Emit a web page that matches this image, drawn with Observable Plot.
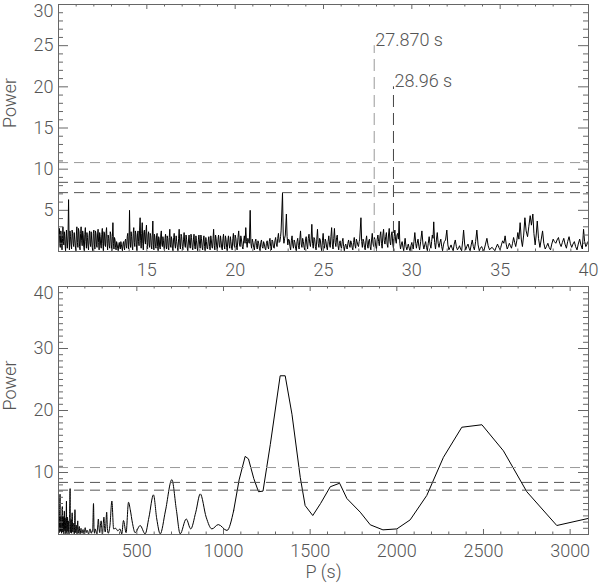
<!DOCTYPE html>
<html>
<head>
<meta charset="utf-8">
<script src="https://cdn.jsdelivr.net/npm/d3@7"></script>
<script src="https://cdn.jsdelivr.net/npm/@observablehq/plot@0.6"></script>
<style>
  html, body { margin: 0; padding: 0; background: #fff; }
  #chart svg { display: block; }
</style>
</head>
<body>
<div id="chart"></div>
<script>
// ---- data ----
const topXTicks = [15, 20, 25, 30, 35, 40];
const topYTicks = [5, 10, 15, 20, 25, 30];
const bottomXTicks = [500, 1000, 1500, 2000, 2500, 3000];
const bottomYTicks = [10, 20, 30, 40];
const sigLevels = [10.8, 8.4, 7.15];
const sigColors = ["#999", "#555", "#555"];
const peakPeriods = [27.870, 28.96];
const peakHeights = [25, 20];
const peakLabels = ["27.870 s", "28.96 s"];
const peakColors = ["#999", "#444"];

// top panel: period (s), power
const topSpectrum = [
[10.00,0.3],[10.03,1.9],[10.05,2.8],[10.08,0.9],[10.10,0.5],[10.13,2.5],[10.15,2.2],[10.18,0.7],[10.20,0.2],[10.23,1.6],[10.25,3.0],[10.28,1.2],[10.30,0.8],[10.33,2.4],[10.35,1.9],[10.38,0.6],[10.40,0.1],[10.43,1.8],[10.45,2.6],[10.48,1.0],
[10.50,0.4],[10.54,2.0],[10.57,6.3],[10.60,1.1],[10.62,0.2],[10.65,2.5],[10.68,1.8],[10.71,0.8],[10.74,0.3],[10.77,2.6],[10.80,2.2],[10.83,1.0],[10.86,0.6],[10.89,2.3],[10.92,1.5],[10.95,0.7],[10.98,0.1],[11.01,2.0],[11.04,3.0],[11.07,1.1],
[11.10,0.5],[11.13,2.8],[11.16,2.4],[11.19,0.6],[11.22,0.2],[11.25,2.2],[11.28,3.0],[11.31,1.3],[11.34,0.7],[11.37,2.5],[11.40,2.0],[11.43,0.5],[11.46,0.1],[11.49,2.1],[11.52,2.9],[11.55,1.2],[11.58,0.4],[11.61,2.3],[11.64,1.7],[11.67,0.6],
[11.70,0.2],[11.73,1.9],[11.76,2.5],[11.79,1.0],[11.82,0.6],[11.85,2.4],[11.88,1.4],[11.91,0.5],[11.94,0.1],[11.97,2.2],[12.00,2.6],[12.03,0.9],[12.06,0.3],[12.09,2.5],[12.12,2.2],[12.15,0.8],[12.18,0.5],[12.21,2.0],[12.24,2.7],[12.27,1.1],
[12.30,0.2],[12.33,2.3],[12.36,1.8],[12.39,0.7],[12.42,0.4],[12.45,2.1],[12.48,2.8],[12.51,1.0],[12.54,0.1],[12.57,2.4],[12.60,2.3],[12.63,0.8],[12.66,0.6],[12.69,2.2],[12.72,2.9],[12.75,1.0],[12.78,0.2],[12.81,2.0],[12.84,1.6],[12.87,0.7],
[12.90,0.4],[12.93,2.4],[12.96,2.1],[12.99,0.8],[13.02,0.1],[13.05,1.8],[13.08,3.5],[13.11,1.0],[13.14,0.3],[13.17,1.7],[13.20,1.4],[13.23,0.5],[13.26,0.2],[13.29,1.2],[13.32,0.9],[13.35,0.4],[13.38,0.1],[13.41,0.8],[13.44,1.1],[13.47,0.5],
[13.50,0.3],[13.53,1.2],[13.56,0.8],[13.59,0.4],[13.62,0.1],[13.65,0.9],[13.68,1.2],[13.71,0.6],[13.74,0.2],[13.77,1.3],[13.80,1.5],[13.83,0.7],[13.86,0.4],[13.89,1.8],[13.92,2.2],[13.95,0.9],[13.97,0.3],[14.00,2.0],[14.02,5.0],[14.05,1.2],
[14.08,0.5],[14.11,2.4],[14.14,1.8],[14.17,0.6],[14.20,0.2],[14.23,2.2],[14.26,2.9],[14.29,1.1],[14.32,0.6],[14.35,2.5],[14.38,2.1],[14.41,0.8],[14.44,0.1],[14.47,2.0],[14.50,2.5],[14.53,1.2],[14.56,0.7],[14.59,2.6],[14.62,4.1],[14.65,1.3],
[14.68,0.4],[14.71,2.2],[14.74,3.5],[14.77,1.0],[14.80,0.2],[14.83,2.3],[14.86,2.6],[14.89,1.4],[14.92,0.9],[14.95,2.4],[14.98,3.2],[15.01,1.1],[15.04,0.3],[15.07,2.0],[15.10,2.4],[15.13,0.9],[15.16,0.5],[15.19,2.2],[15.22,1.9],[15.25,0.7],
[15.28,0.3],[15.31,2.0],[15.34,3.7],[15.37,0.8],[15.40,0.2],[15.43,2.1],[15.46,1.7],[15.49,0.6],[15.52,0.4],[15.55,1.9],[15.58,2.2],[15.61,0.6],[15.64,0.1],[15.67,1.8],[15.70,1.5],[15.73,0.5],[15.76,0.3],[15.79,2.0],[15.82,2.5],[15.85,0.9],
[15.88,0.6],[15.91,1.8],[15.94,1.3],[15.97,0.4],[16.00,0.1],[16.03,1.6],[16.06,2.1],[16.09,0.7],[16.12,0.3],[16.15,1.9],[16.18,1.6],[16.21,0.5],[16.24,0.2],[16.27,1.7],[16.30,2.7],[16.33,0.8],[16.36,0.5],[16.39,1.8],[16.42,1.4],[16.45,0.4],
[16.48,0.1],[16.52,1.7],[16.55,2.2],[16.59,0.8],[16.62,0.4],[16.66,1.9],[16.69,1.2],[16.73,0.5],[16.76,0.1],[16.80,1.6],[16.83,2.7],[16.87,0.7],[16.90,0.3],[16.94,2.1],[16.97,1.8],[17.01,0.6],[17.04,0.2],[17.08,1.5],[17.11,2.3],[17.15,0.8],
[17.18,0.5],[17.22,2.0],[17.25,1.5],[17.29,0.4],[17.32,0.1],[17.36,1.4],[17.39,2.0],[17.43,0.7],[17.46,0.4],[17.50,2.1],[17.53,1.7],[17.57,0.5],[17.60,0.2],[17.64,1.5],[17.67,2.1],[17.71,0.6],[17.74,0.3],[17.78,1.9],[17.81,1.3],[17.85,0.4],
[17.88,0.1],[17.92,1.5],[17.95,2.0],[17.99,0.8],[18.02,0.4],[18.06,2.0],[18.09,1.6],[18.13,0.5],[18.16,0.2],[18.20,1.4],[18.23,1.9],[18.27,0.6],[18.30,0.1],[18.34,1.7],[18.37,1.2],[18.41,0.4],[18.44,0.3],[18.48,1.4],[18.51,1.8],[18.55,0.6],
[18.58,0.2],[18.62,1.9],[18.65,1.4],[18.69,0.5],[18.72,0.4],[18.75,1.6],[18.78,2.7],[18.82,0.7],[18.85,0.2],[18.89,2.0],[18.92,1.6],[18.96,0.5],[18.99,0.1],[19.03,1.5],[19.06,2.0],[19.10,0.8],[19.13,0.5],[19.17,1.9],[19.20,1.3],[19.24,0.4],
[19.27,0.2],[19.31,1.6],[19.34,2.1],[19.38,0.7],[19.41,0.3],[19.45,1.9],[19.48,1.5],[19.52,0.5],[19.55,0.1],[19.59,1.4],[19.62,1.9],[19.66,0.8],[19.69,0.4],[19.73,1.8],[19.76,1.2],[19.80,0.4],[19.83,0.2],[19.87,1.6],[19.90,2.2],[19.94,0.8],
[19.97,0.5],[20.00,2.0],[20.04,1.6],[20.08,0.5],[20.11,0.2],[20.16,1.7],[20.20,2.5],[20.24,0.9],[20.28,0.6],[20.32,1.9],[20.36,1.4],[20.40,0.6],[20.44,0.3],[20.48,1.3],[20.52,1.9],[20.56,1.0],[20.60,2.9],[20.64,1.2],[20.68,0.5],[20.72,1.6],
[20.76,1.2],[20.80,1.0],[20.85,5.0],[20.89,1.0],[20.93,0.4],[20.97,1.5],[21.01,1.1],[21.05,0.5],[21.09,0.2],[21.13,1.2],[21.17,1.5],[21.21,0.7],[21.25,0.3],[21.29,1.3],[21.33,1.0],[21.37,0.4],[21.41,0.1],[21.45,1.1],[21.49,1.4],[21.53,0.6],
[21.57,0.4],[21.61,1.2],[21.65,0.9],[21.69,0.4],[21.73,0.2],[21.77,1.0],[21.81,1.3],[21.85,0.6],[21.89,0.3],[21.93,1.2],[21.97,1.6],[22.01,0.6],[22.05,0.2],[22.09,1.4],[22.13,1.2],[22.17,0.5],[22.21,0.4],[22.25,1.3],[22.29,1.7],[22.33,0.9],
[22.37,0.6],[22.41,1.6],[22.45,2.2],[22.49,1.1],[22.53,1.2],[22.57,1.8],[22.60,2.5],[22.68,7.1],[22.72,2.0],[22.76,1.0],[22.80,1.6],[22.84,2.0],[22.90,4.55],[22.94,1.8],[22.98,0.8],[23.02,1.5],[23.06,1.4],[23.10,0.6],[23.14,0.2],[23.18,1.3],
[23.22,1.9],[23.26,0.8],[23.30,0.4],[23.34,1.4],[23.38,1.1],[23.42,0.4],[23.46,0.1],[23.50,1.2],[23.54,1.6],[23.58,0.7],[23.62,0.3],[23.66,1.5],[23.70,2.5],[23.74,0.9],[23.78,0.5],[23.82,1.6],[23.86,1.2],[23.90,0.5],[23.94,0.2],[23.98,1.4],
[24.02,1.8],[24.06,0.8],[24.10,0.3],[24.14,1.6],[24.18,2.1],[24.22,1.0],[24.26,0.6],[24.30,1.5],[24.34,3.3],[24.38,1.0],[24.42,0.4],[24.46,1.7],[24.50,1.5],[24.54,0.6],[24.58,0.2],[24.62,1.5],[24.66,2.7],[24.70,1.0],[24.74,0.5],[24.78,1.6],
[24.82,1.4],[24.86,0.5],[24.90,0.1],[24.94,1.3],[24.98,2.2],[25.02,0.9],[25.06,0.4],[25.10,1.5],[25.14,1.2],[25.18,0.5],[25.22,0.2],[25.26,1.2],[25.30,1.9],[25.34,0.9],[25.38,0.5],[25.42,1.8],[25.46,2.9],[25.50,0.9],[25.54,0.3],[25.58,1.6],
[25.62,2.8],[25.66,1.1],[25.70,0.6],[25.74,1.7],[25.78,2.0],[25.82,0.7],[25.86,0.2],[25.90,1.0],[25.94,1.3],[25.98,0.6],[26.02,0.4],[26.06,1.2],[26.10,1.6],[26.14,0.6],[26.18,0.1],[26.22,0.7],[26.26,0.9],[26.30,0.5],[26.34,0.3],[26.38,1.0],
[26.42,1.4],[26.46,0.8],[26.50,0.5],[26.54,1.3],[26.58,1.1],[26.62,0.5],[26.66,0.2],[26.70,1.1],[26.74,1.7],[26.78,0.8],[26.82,0.4],[26.86,1.5],[26.90,1.2],[26.94,0.8],[26.98,0.6],[27.02,1.2],[27.05,1.5],[27.12,4.1],[27.16,1.2],[27.20,0.5],
[27.24,1.5],[27.28,1.2],[27.32,0.5],[27.36,0.2],[27.40,1.3],[27.44,1.9],[27.48,0.8],[27.52,0.4],[27.56,1.3],[27.60,1.5],[27.64,0.6],[27.68,0.2],[27.72,1.4],[27.76,2.2],[27.80,1.0],[27.84,0.6],[27.88,1.7],[27.92,1.4],[27.96,0.6],[28.00,0.3],
[28.04,1.5],[28.08,2.0],[28.12,1.2],[28.16,0.7],[28.20,1.9],[28.24,2.4],[28.28,1.0],[28.32,0.4],[28.36,2.0],[28.40,2.7],[28.44,1.3],[28.48,0.9],[28.52,1.8],[28.56,2.3],[28.60,0.9],[28.64,0.5],[28.68,2.0],[28.72,2.8],[28.76,1.2],[28.80,0.8],
[28.84,2.0],[28.88,2.4],[28.92,0.9],[28.96,0.4],[29.00,1.8],[29.04,2.6],[29.08,1.4],[29.12,1.0],[29.16,2.0],[29.20,2.2],[29.24,1.5],[29.28,3.7],[29.32,1.0],[29.36,0.3],[29.40,0.8],[29.45,1.2],[29.50,0.5],[29.54,0.1],[29.58,0.9],[29.62,1.6],
[29.67,0.6],[29.72,0.2],[29.76,0.6],[29.80,0.9],[29.85,0.4],[29.90,0.1],[29.95,0.7],[30.00,1.1],[30.04,0.6],[30.08,0.3],[30.12,1.2],[30.17,2.3],[30.22,1.0],[30.26,0.4],[30.30,1.0],[30.35,1.5],[30.40,0.6],[30.44,0.2],[30.50,1.2],[30.57,2.5],
[30.63,0.9],[30.68,0.3],[30.73,0.8],[30.78,1.2],[30.83,0.5],[30.88,0.1],[30.93,1.0],[30.98,1.8],[31.03,0.9],[31.08,0.4],[31.12,1.2],[31.16,2.0],[31.20,1.6],[31.24,3.6],[31.29,1.1],[31.34,0.3],[31.39,1.4],[31.44,2.3],[31.49,1.0],[31.54,0.5],
[31.59,1.1],[31.64,1.5],[31.69,0.6],[31.74,0.1],[31.79,0.8],[31.84,1.2],[31.91,1.4],[31.98,2.6],[32.04,0.8],[32.10,0.2],[32.16,0.5],[32.22,0.8],[32.28,0.4],[32.34,0.1],[32.40,0.9],[32.46,1.4],[32.52,0.6],[32.58,0.2],[32.64,0.4],[32.70,0.7],
[32.76,0.3],[32.82,0.1],[32.88,1.3],[32.93,2.6],[32.99,0.9],[33.05,0.2],[33.11,0.6],[33.18,0.9],[33.24,0.4],[33.30,0.1],[33.36,0.8],[33.42,1.4],[33.48,0.6],[33.54,0.2],[33.61,1.2],[33.68,2.6],[33.75,0.8],[33.82,0.1],[33.88,0.4],[33.95,0.6],
[34.01,0.3],[34.08,0.1],[34.16,0.8],[34.25,1.6],[34.32,0.7],[34.40,0.2],[34.47,0.4],[34.55,0.5],[34.62,0.3],[34.70,0.1],[34.77,0.5],[34.85,0.9],[34.92,0.5],[35.00,0.2],[35.07,0.8],[35.14,1.3],[35.21,1.0],[35.28,1.9],[35.34,0.9],[35.40,0.3],
[35.46,0.6],[35.52,1.0],[35.58,0.7],[35.64,0.4],[35.70,1.0],[35.76,1.7],[35.82,1.1],[35.88,0.6],[35.94,1.3],[36.00,2.3],[36.06,1.5],[36.13,3.5],[36.20,1.4],[36.26,0.6],[36.33,2.0],[36.40,4.1],[36.47,2.5],[36.55,1.8],[36.62,3.0],[36.70,4.35],
[36.77,3.2],[36.85,4.55],[36.91,2.2],[36.98,0.8],[37.04,2.0],[37.10,3.7],[37.17,1.6],[37.25,0.5],[37.32,1.4],[37.40,2.5],[37.47,1.0],[37.55,0.3],[37.62,0.6],[37.70,1.0],[37.77,0.5],[37.85,0.2],[37.92,0.9],[38.00,1.5],[38.07,1.2],[38.15,1.0],
[38.22,1.4],[38.30,1.7],[38.37,1.0],[38.45,0.6],[38.52,1.1],[38.60,1.6],[38.67,0.9],[38.75,0.4],[38.82,1.2],[38.90,1.8],[38.97,1.0],[39.05,0.5],[39.12,0.9],[39.20,1.2],[39.27,0.6],[39.35,0.2],[39.42,0.9],[39.50,1.5],[39.57,0.8],[39.65,0.3],
[39.72,2.7],[39.78,1.2],[39.85,0.6],[39.92,0.9],[40.00,1.3]
];

// bottom panel: period (s), power
const bottomSpectrum = [
[48,2.0],[50,3.1],[52,0.3],[54,2.6],[57,6.5],[58,1.2],[60,0.5],[61,2.8],[63,3.0],[64,0.9],[66,0.2],[68,2.4],[70,4.5],[71,1.3],[73,0.4],[75,2.9],[76,2.5],[78,0.8],[79,0.1],[80,2.2],
[82,3.8],[83,1.4],[85,0.6],[86,2.7],[88,2.2],[89,0.7],[91,0.1],[92,2.1],[94,5.4],[95,1.5],[97,0.3],[98,2.3],[100,2.8],[101,1.0],[103,0.5],[104,2.2],[106,1.9],[107,0.6],[109,0.1],[110,1.8],
[112,3.2],[115,7.4],[116,1.6],[118,0.3],[119,1.9],[121,2.4],[122,0.8],[124,0.2],[125,2.0],[127,3.5],[129,1.1],[131,0.4],[133,1.5],[135,1.8],[137,0.6],[139,0.1],[141,1.6],[143,4.0],[145,1.0],
[147,0.3],[149,1.2],[151,1.5],[153,0.5],[155,0.1],[157,1.4],[159,2.2],[161,0.7],[163,0.2],[166,1.0],[168,1.3],[170,0.5],[173,0.1],[176,0.8],[178,1.0],[181,0.5],[184,0.2],[187,0.7],[190,0.8],[193,0.3],
[196,0.1],[199,0.7],[202,1.1],[205,0.5],[208,0.3],[212,0.7],[215,0.6],[218,0.3],[222,0.1],[226,0.6],[230,0.9],[234,0.4],[238,0.2],[242,0.6],[245,0.5],[250,5.0],[253,1.0],[256,0.2],
[260,0.9],[263,0.7],[267,0.3],[270,0.1],[274,1.2],[278,2.5],[282,1.0],[286,0.3],[290,1.5],[294,2.2],[298,0.8],[302,0.1],[306,1.6],[310,2.8],[314,1.0],[318,0.4],[322,2.0],[326,3.6],[330,1.0],[335,0.2],
[345,1.5],[356,5.4],[366,0.9],[378,1.0],[390,0.6],[403,0.9],[413,0.1],[423,2.25],[438,0.3],[452,5.2],
[462,4.0],[475,1.8],[490,0.3],[519,1.45],[548,0.1],[570,2.8],[596,6.4],[615,2.5],[635,0.1],[665,3.8],
[702,8.85],[728,4.0],[750,0.1],[785,2.5],[811,0.9],[840,3.6],[866,6.55],[900,2.8],[933,0.9],[970,1.6],
[1020,0.65],[1059,3.9],[1090,8.8],[1125,12.6],[1144,12.2],[1175,9.0],[1202,6.9],[1228,7.0],[1270,14.5],[1327,25.6],
[1356,25.6],[1395,19.4],[1443,9.2],[1471,4.67],[1515,3.06],[1560,5.0],[1616,7.7],[1670,8.27],[1712,5.8],[1789,3.6],
[1847,1.56],[1920,0.75],[2000,0.9],[2077,2.36],[2173,6.3],[2269,12.45],[2375,17.3],[2491,17.7],[2615,13.5],[2750,6.9],
[2923,1.45],[3106,2.6]
];

// ---- layout & drawing ----
const W = 600, ML = 58, MR = 12;
const FW = W - ML - MR;
const axisColor = "#666";
const textColor = "#555";
const font = {fontFamily: "Roboto, 'Liberation Sans', sans-serif", fontSize: "18px", fontWeight: 300};

function ticksMarks(xMajor, xMinor, yMajor, yMinor, FH) {
  const xM = 5, xm = 2.5, yM = 10, ym = 5;
  const s = {stroke: axisColor, strokeWidth: 1};
  return [
    Plot.tickX(xMajor, {x: d => d, insetTop: FH - xM, ...s}),
    Plot.tickX(xMinor, {x: d => d, insetTop: FH - xm, ...s}),
    Plot.tickX(xMajor, {x: d => d, insetBottom: FH - xM, ...s}),
    Plot.tickX(xMinor, {x: d => d, insetBottom: FH - xm, ...s}),
    Plot.tickY(yMajor, {y: d => d, insetRight: FW - yM, ...s}),
    Plot.tickY(yMinor, {y: d => d, insetRight: FW - ym, ...s}),
    Plot.tickY(yMajor, {y: d => d, insetLeft: FW - yM, ...s}),
    Plot.tickY(yMinor, {y: d => d, insetLeft: FW - ym, ...s})
  ];
}

// top panel
const topH = 280, topMT = 4, topMB = 29;
const topFH = topH - topMT - topMB;
const annotations = peakPeriods.map((p, i) => ({p, h: peakHeights[i], label: peakLabels[i], c: peakColors[i]}));
const sig = sigLevels.map((v, i) => ({v, c: sigColors[i]}));

const topPlot = Plot.plot({
  width: W, height: topH,
  marginLeft: ML, marginRight: MR, marginTop: topMT, marginBottom: topMB,
  x: {domain: [10, 40], label: null},
  y: {domain: [0, 30], label: null},
  style: {...font, color: textColor, background: "white", overflow: "visible"},
  marks: [
    Plot.line(topSpectrum, {x: d => d[0], y: d => d[1], stroke: "black", strokeWidth: 1, clip: true}),
    Plot.ruleY(sig, {y: "v", stroke: "c", strokeDasharray: "10,6", strokeWidth: 1}),
    Plot.ruleX(annotations, {x: "p", y1: 0, y2: "h", stroke: "c", strokeDasharray: "12,6", strokeWidth: 1}),
    Plot.text(annotations, {x: "p", y: "h", text: "label", textAnchor: "start", lineAnchor: "bottom", dx: 1, fill: textColor}),
    ...ticksMarks(topXTicks, d3.range(11, 40, 1).filter(v => v % 5 !== 0), topYTicks, d3.range(1, 30, 1).filter(v => v % 5 !== 0), topFH),
    Plot.frame({stroke: axisColor, strokeWidth: 1}),
    Plot.axisX(topXTicks, {anchor: "bottom", tickSize: 0, tickPadding: 12, tickFormat: d => String(d), fill: textColor, label: null}),
    Plot.axisY(topYTicks.slice(0, -1), {anchor: "left", tickSize: 0, tickPadding: 5, tickFormat: d => String(d), fill: textColor, label: null}),
    Plot.axisY(topYTicks.slice(-1), {anchor: "left", tickSize: 0, tickPadding: 5, tickFormat: d => String(d), fill: textColor, label: null, dy: 7}),
    Plot.text(["Power"], {frameAnchor: "left", text: d => d, rotate: -90, dx: -48, fill: textColor})
  ]
});

// bottom panel
const botH = 308, botMT = 6, botMB = 54;
const botFH = botH - botMT - botMB;
const smoothPart = bottomSpectrum.filter(d => d[0] <= 1059);
const linearPart = bottomSpectrum.filter(d => d[0] >= 1059);

const botPlot = Plot.plot({
  width: W, height: botH,
  marginLeft: ML, marginRight: MR, marginTop: botMT, marginBottom: botMB,
  x: {domain: [48, 3106], label: null},
  y: {domain: [0, 40], label: null},
  style: {...font, color: textColor, background: "white", overflow: "visible"},
  marks: [
    Plot.line(smoothPart, {x: d => d[0], y: d => d[1], stroke: "black", strokeWidth: 1, curve: "monotone-x", clip: true}),
    Plot.line(linearPart, {x: d => d[0], y: d => d[1], stroke: "black", strokeWidth: 1, clip: true}),
    Plot.ruleY(sig, {y: "v", stroke: "c", strokeDasharray: "10,6", strokeWidth: 1}),
    ...ticksMarks(bottomXTicks, d3.range(100, 3100, 100).filter(v => v % 500 !== 0), bottomYTicks, d3.range(1, 40, 1).filter(v => v % 10 !== 0), botFH),
    Plot.frame({stroke: axisColor, strokeWidth: 1}),
    Plot.axisX(bottomXTicks, {anchor: "bottom", tickSize: 0, tickPadding: 10, tickFormat: d => String(d), fill: textColor, label: null}),
    Plot.axisY(bottomYTicks.slice(0, -1), {anchor: "left", tickSize: 0, tickPadding: 5, tickFormat: d => String(d), fill: textColor, label: null}),
    Plot.axisY(bottomYTicks.slice(-1), {anchor: "left", tickSize: 0, tickPadding: 5, tickFormat: d => String(d), fill: textColor, label: null, dy: 7}),
    Plot.text(["Power"], {frameAnchor: "left", text: d => d, rotate: -90, dx: -48, fill: textColor}),
    Plot.text(["P (s)"], {frameAnchor: "bottom", text: d => d, lineAnchor: "top", dy: 31, fill: textColor})
  ]
});

const root = document.getElementById("chart");
root.appendChild(topPlot);
root.appendChild(botPlot);
</script>
</body>
</html>
